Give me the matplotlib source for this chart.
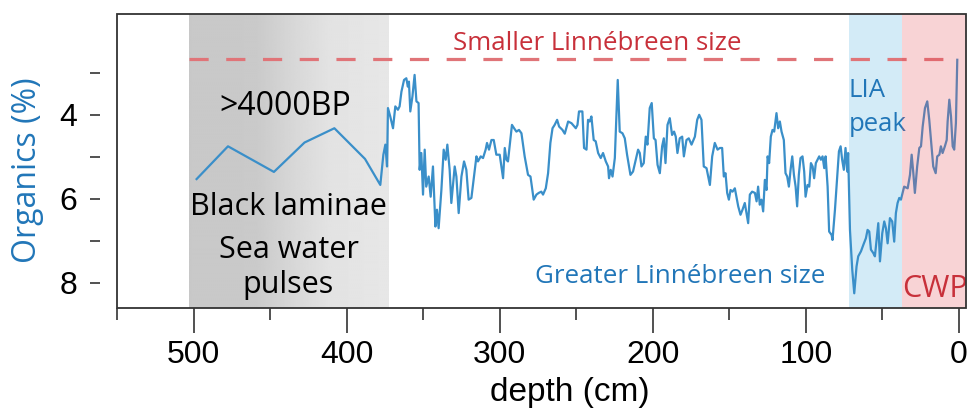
import numpy as np
import matplotlib
matplotlib.use("Agg")
import matplotlib.pyplot as plt
from matplotlib.patches import Rectangle
from matplotlib.ticker import FixedLocator

# organic content down core (depth in cm, organics in %)
depth = [
    498.0, 477.5, 447.5, 427.5, 408.0, 388.0, 378.0, 376.0, 374.7, 373.6,
    373.0, 371.5, 369.7, 368.2, 366.5, 365.4, 364.2, 362.5, 361.0, 360.0,
    359.3, 358.4, 357.0, 355.6, 354.4, 353.0, 352.3, 351.2, 350.1, 349.0,
    348.0, 346.4, 345.1, 343.6, 342.0, 341.0, 339.9, 338.1, 336.6, 335.3,
    334.2, 332.7, 331.6, 329.4, 328.3, 326.8, 325.0, 323.3, 321.8, 320.3,
    318.5, 316.3, 315.2, 314.2, 312.4, 310.9, 309.2, 308.3, 307.0, 305.4,
    303.9, 302.2, 300.0, 298.9, 297.8, 296.7, 295.6, 294.6, 293.5, 292.0,
    290.6, 289.1, 287.4, 285.8, 283.7, 281.5, 279.9, 277.8, 276.0, 274.5,
    272.8, 271.7, 269.9, 268.4, 266.9, 265.5, 264.1, 262.5, 261.2, 259.0,
    257.5, 255.3, 253.1, 250.3, 249.2, 248.2, 246.0, 244.9, 243.3, 242.3,
    241.2, 240.1, 238.6, 237.3, 235.7, 234.0, 232.5, 230.7, 229.2, 228.6,
    227.5, 226.3, 224.8, 222.9, 221.6, 219.8, 218.3, 216.8, 214.6, 212.9,
    211.1, 209.6, 208.5, 207.4, 205.9, 204.6, 203.5, 202.0, 200.7, 199.3,
    198.2, 196.9, 195.4, 193.9, 192.8, 191.7, 190.4, 188.9, 187.4, 186.1,
    185.0, 183.9, 182.4, 180.8, 179.7, 178.0, 176.5, 174.7, 172.5, 171.0,
    169.7, 168.2, 166.7, 164.9, 162.7, 161.2, 159.5, 157.7, 156.2, 154.7,
    153.6, 152.5, 151.4, 150.3, 149.2, 147.9, 146.4, 144.2, 142.7, 141.4,
    139.9, 138.8, 137.7, 136.6, 135.1, 133.3, 132.2, 131.2, 130.1, 129.0,
    127.9, 126.8, 125.7, 125.0, 124.0, 122.9, 121.8, 120.7, 119.2, 118.1,
    117.0, 115.9, 114.4, 113.3, 112.2, 111.1, 110.0, 108.9, 107.8, 106.7,
    105.7, 104.6, 103.5, 102.2, 101.1, 100.2, 98.9, 97.8, 96.7, 95.6,
    94.6, 93.5, 92.4, 91.3, 90.2, 89.1, 88.0, 87.1, 85.8, 84.8,
    83.2, 82.6, 81.0, 79.5, 78.4, 77.3, 76.3, 75.2, 74.1, 73.0,
    72.4, 71.2, 69.7, 68.4, 66.9, 65.8, 64.0, 62.5, 60.8, 59.7,
    58.6, 57.5, 56.0, 54.9, 53.8, 52.7, 51.6, 50.1, 48.8, 47.7,
    46.6, 45.1, 43.6, 42.3, 41.2, 40.1, 39.0, 37.9, 36.8, 35.8,
    33.5, 32.0, 30.9, 29.8, 28.8, 27.3, 25.9, 24.8, 23.7, 22.2,
    20.7, 19.4, 18.3, 16.8, 15.2, 14.2, 12.8, 11.8, 10.7, 9.2,
    8.0, 7.4, 6.3, 5.2, 4.1, 3.1, 2.0, 1.1,
]
organics = [
    5.53, 4.75, 5.36, 4.66, 4.32, 5.05, 5.67, 4.95, 4.71, 5.23,
    3.84, 4.04, 4.32, 3.80, 3.88, 3.80, 3.45, 3.17, 3.13, 3.33,
    3.21, 3.92, 3.56, 3.05, 3.68, 3.72, 5.31, 4.91, 5.90, 4.83,
    5.71, 5.47, 5.95, 5.23, 6.66, 6.26, 6.70, 5.79, 4.83, 5.07,
    4.71, 5.31, 6.10, 5.23, 5.47, 6.34, 5.47, 5.11, 5.31, 6.02,
    5.98, 5.31, 4.99, 5.11, 4.99, 5.03, 4.83, 4.67, 4.83, 4.60,
    4.60, 4.95, 4.95, 5.23, 5.51, 4.79, 5.07, 5.11, 4.75, 4.24,
    4.32, 4.40, 4.36, 4.44, 4.99, 5.43, 5.47, 6.02, 5.90, 5.86,
    5.83, 5.90, 5.75, 5.39, 4.67, 4.32, 4.24, 4.12, 4.28, 4.36,
    4.45, 4.16, 4.20, 4.32, 4.24, 3.92, 3.92, 4.79, 4.83, 4.12,
    4.16, 4.04, 4.60, 4.63, 4.91, 5.03, 4.91, 5.11, 5.23, 5.51,
    5.31, 5.47, 5.03, 3.17, 4.40, 4.44, 4.56, 4.95, 5.43, 5.35,
    5.07, 4.83, 4.91, 5.23, 5.15, 4.52, 4.71, 3.84, 3.72, 4.56,
    4.60, 5.19, 5.39, 4.75, 4.56, 5.15, 4.24, 4.08, 4.48, 4.40,
    4.52, 4.91, 4.56, 4.52, 4.99, 4.60, 4.56, 4.71, 4.52, 4.12,
    4.00, 4.12, 5.23, 5.27, 5.67, 4.99, 4.67, 4.83, 4.79, 4.79,
    5.47, 5.39, 5.86, 6.02, 5.79, 5.83, 5.75, 6.18, 6.38, 6.26,
    6.10, 6.34, 6.58, 5.90, 5.83, 5.86, 6.06, 5.71, 6.14, 6.02,
    6.30, 5.55, 5.79, 4.99, 5.15, 4.52, 4.36, 4.40, 3.96, 4.32,
    4.16, 4.40, 4.60, 5.39, 5.47, 5.71, 5.31, 4.99, 5.43, 5.71,
    6.18, 5.43, 5.03, 4.99, 5.35, 5.95, 5.67, 5.71, 5.15, 5.23,
    5.51, 5.15, 5.07, 4.99, 5.07, 4.99, 5.27, 4.99, 5.71, 6.78,
    6.86, 6.98, 6.26, 5.47, 4.87, 4.75, 5.07, 5.31, 4.79, 5.35,
    4.91, 6.74, 7.69, 8.25, 7.61, 7.37, 7.25, 7.10, 6.94, 6.74,
    6.78, 7.21, 7.29, 7.37, 6.98, 6.58, 7.49, 6.82, 6.54, 6.70,
    7.06, 6.46, 6.54, 7.02, 6.34, 6.10, 5.98, 6.02, 5.86, 5.71,
    5.75, 5.43, 4.95, 5.39, 5.86, 5.23, 4.79, 4.75, 4.28, 3.84,
    3.68, 4.12, 4.60, 5.23, 5.39, 4.99, 4.95, 4.75, 4.91, 4.75,
    4.60, 4.16, 3.64, 4.04, 4.75, 4.83, 4.20, 2.69,
]

# depth intervals of the shaded periods (cm)
laminae_zone = (503, 373)
lia_zone = (72, 37)
cwp_zone = (37, -5)
smaller_size_level = 2.68
dashed_extent = (503, 1.1)

x_major = [0, 100, 200, 300, 400, 500]
x_minor = [50, 150, 250, 350, 450, 550]
y_major = [4, 6, 8]
y_minor = [3, 5, 7]

blue = "#3a8fc9"
text_blue = "#2176b8"
text_red = "#c8303a"

plt.rcParams["font.family"] = ["Liberation Sans", "DejaVu Sans"]
ann_font = ["Open Sans", "DejaVu Sans"]

fig = plt.figure(figsize=(9.67, 4.09), dpi=100)
ax = fig.add_axes([117 / 967, 1 - 308 / 409, 849 / 967, 294 / 409])
ax.set_xlim(550, -4.6)
ax.set_ylim(8.6, 1.6)

# gray gradient for the laminated section
g_x = np.linspace(laminae_zone[0], laminae_zone[1], 300)
g_val = np.interp(g_x, [373, 411, 435, 460, 503], [0.905, 0.89, 0.845, 0.79, 0.785])
ax.imshow(g_val[None, :], cmap="gray", vmin=0, vmax=1, aspect="auto",
          extent=[laminae_zone[0], laminae_zone[1], 8.6, 1.6], zorder=0,
          interpolation="bilinear")
ax.axvspan(lia_zone[0], lia_zone[1], color="#d3ebf7", lw=0, zorder=0)

ax.hlines(smaller_size_level, dashed_extent[0], dashed_extent[1],
          colors="#e07478", linestyles=(0, (6, 5.5)), lw=2.3, zorder=2)
ax.plot(depth, organics, color=blue, lw=1.6, zorder=3)
ax.axvspan(cwp_zone[0], cwp_zone[1], color="#e6505a", alpha=0.25, lw=0, zorder=4)

ax.text(440, 4.0, ">4000BP", fontsize=23, family=ann_font, ha="center", va="baseline")
ax.text(438, 6.38, "Black laminae", fontsize=22, family=ann_font, ha="center", va="baseline")
ax.text(438, 7.40, "Sea water", fontsize=22, family=ann_font, ha="center", va="baseline")
ax.text(438, 8.24, "pulses", fontsize=22, family=ann_font, ha="center", va="baseline")
ax.text(236, 2.45, "Smaller Linnébreen size", fontsize=18.6, family=ann_font,
        color=text_red, ha="center", va="baseline")
ax.text(182, 8.0, "Greater Linnébreen size", fontsize=18.6, family=ann_font,
        color=text_blue, ha="center", va="baseline")
ax.text(72, 3.57, "LIA", fontsize=18.5, family=ann_font, color=text_blue, ha="left", va="baseline")
ax.text(72, 4.38, "peak", fontsize=18.5, family=ann_font, color=text_blue, ha="left", va="baseline")
ax.text(37.3, 8.33, "CWP", fontsize=22, family=ann_font, color=text_red, ha="left",
        va="baseline", zorder=5, clip_on=True)

# frame drawn by hand so the y ticks can sit away from it
for s in ax.spines.values():
    s.set_visible(False)
ax.add_patch(Rectangle((0, 0), 1, 1, transform=ax.transAxes, fill=False,
                       ec="#333333", lw=1.3, clip_on=False, zorder=6))
ax.spines["left"].set_position(("outward", 12))

ax.xaxis.set_major_locator(FixedLocator(x_major))
ax.xaxis.set_minor_locator(FixedLocator(x_minor))
ax.yaxis.set_major_locator(FixedLocator(y_major))
ax.yaxis.set_minor_locator(FixedLocator(y_minor))
ax.tick_params(axis="x", which="major", direction="out", length=18, width=1.1,
               pad=5, labelsize=23, color="#222222")
ax.tick_params(axis="x", which="minor", direction="out", length=8.6, width=1.1, color="#222222")
ax.tick_params(axis="y", which="both", direction="out", length=7.5, width=1.1,
               pad=9, labelsize=23, color="#222222")

fig.text(28 / 967, 1 - 170 / 409, "Organics (%)", fontsize=23, family=ann_font,
         color=text_blue, rotation=90, ha="center", va="center")
fig.text(570 / 967, 1 - 392 / 409, "depth (cm)", fontsize=24, ha="center", va="center")

fig.savefig("out.png", dpi=100)
